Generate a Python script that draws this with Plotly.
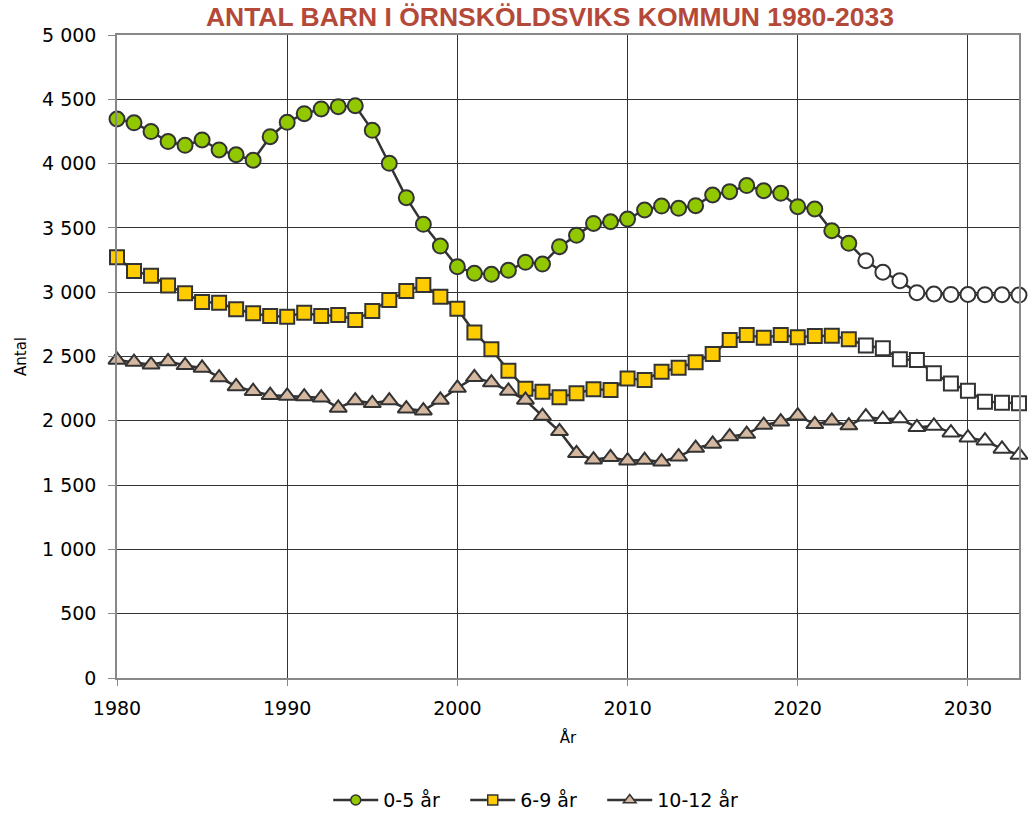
import plotly.graph_objects as go

years = list(range(1980, 2034))

age_0_5 = [4347, 4317, 4249, 4171, 4142, 4184, 4106, 4069, 4026, 4209,
           4321, 4388, 4425, 4443, 4450, 4259, 4002, 3735, 3528, 3359,
           3198, 3147, 3139, 3170, 3232, 3219, 3354, 3442, 3535, 3548,
           3569, 3639, 3670, 3652, 3673, 3756, 3782, 3829, 3789, 3769,
           3665, 3647, 3478, 3380, 3245, 3155, 3090, 2996, 2986, 2983,
           2982, 2981, 2980, 2978]

age_6_9 = [3271, 3165, 3128, 3053, 2991, 2924, 2918, 2867, 2836, 2815,
           2810, 2841, 2815, 2823, 2784, 2854, 2939, 3009, 3056, 2965,
           2872, 2686, 2556, 2390, 2250, 2226, 2183, 2214, 2245, 2240,
           2328, 2317, 2382, 2413, 2455, 2519, 2628, 2667, 2646, 2667,
           2649, 2659, 2662, 2634, 2586, 2564, 2478, 2473, 2369, 2291,
           2234, 2149, 2141, 2136]

age_10_12 = [2473, 2457, 2436, 2462, 2431, 2411, 2336, 2267, 2230, 2199,
             2193, 2188, 2180, 2100, 2157, 2136, 2157, 2094, 2079, 2162,
             2255, 2338, 2297, 2232, 2162, 2037, 1918, 1747, 1698, 1716,
             1690, 1695, 1682, 1721, 1788, 1820, 1877, 1897, 1967, 1993,
             2040, 1973, 2000, 1963, 2032, 2012, 2017, 1949, 1960, 1908,
             1869, 1845, 1781, 1734]

series_names = ["0-5 år", "6-9 år", "10-12 år"]
forecast_start = 2024

x_ticks = [1980, 1990, 2000, 2010, 2020, 2030]
y_ticks = [0, 500, 1000, 1500, 2000, 2500, 3000, 3500, 4000, 4500, 5000]

title_text = "ANTAL BARN I ÖRNSKÖLDSVIKS KOMMUN 1980-2033"
x_title = "År"
y_title = "Antal"

styles = [
    dict(symbol="circle", color="#92C800", size=15),
    dict(symbol="square", color="#FFCC00", size=14),
    dict(symbol="triangle-up", color="#D5B8A0", size=15),
]
LINE = "#333333"

fig = go.Figure()
for name, vals, st in zip(series_names, [age_0_5, age_6_9, age_10_12], styles):
    colors = [st["color"] if y < forecast_start else "#FFFFFF" for y in years]
    fig.add_trace(go.Scatter(
        x=years, y=vals, name=name, mode="lines+markers", showlegend=False,
        line=dict(color=LINE, width=2.5),
        marker=dict(symbol=st["symbol"], size=st["size"], color=colors,
                    line=dict(color=LINE, width=2)),
        cliponaxis=False,
    ))
# legend entries (smaller symbols, as in the original)
for name, st in zip(series_names, styles):
    fig.add_trace(go.Scatter(
        x=[None], y=[None], name=name, mode="lines+markers",
        line=dict(color=LINE, width=2.5),
        marker=dict(symbol=st["symbol"], size=10 if st["symbol"] != "triangle-up" else 11,
                    color=st["color"], line=dict(color=LINE, width=1.5)),
    ))

base_font = "DejaVu Sans, Verdana, sans-serif"

fig.update_layout(
    width=1028, height=817,
    paper_bgcolor="white", plot_bgcolor="white",
    margin=dict(l=117, r=9, t=35, b=139, autoexpand=False),
    font=dict(family=base_font, size=19, color="#000000"),
    title=dict(text=title_text, x=0.48, xref="paper", xanchor="center",
               y=1 - 17 / 817, yref="container", yanchor="middle",
               font=dict(family="Liberation Sans, Arial, sans-serif",
                         size=26.5, color="#B4493A", weight="bold")),
    showlegend=True,
    legend=dict(orientation="h", x=0.462, xanchor="center", y=-0.19, yanchor="middle",
                font=dict(size=19), bgcolor="rgba(0,0,0,0)",
                itemwidth=45, entrywidth=77, entrywidthmode="pixels"),
    separators=", ",
    hovermode=False,
)

fig.update_xaxes(
    range=[1980, 2033], tickvals=x_ticks,
    showgrid=True, gridcolor="#333333", gridwidth=1,
    showline=True, linecolor="#888888", linewidth=1.5, mirror=True,
    ticks="outside", ticklen=6, tickcolor="#888888",
    ticklabelstandoff=6, automargin=False,
    zeroline=False,
    title=dict(text=x_title, font=dict(size=15), standoff=15),
)
fig.update_yaxes(
    range=[0, 5000], tickvals=y_ticks, separatethousands=True,
    showgrid=True, gridcolor="#333333", gridwidth=1,
    showline=True, linecolor="#888888", linewidth=1.5, mirror=True,
    ticks="outside", ticklen=7, tickcolor="#888888",
    ticklabelstandoff=8, automargin=False,
    zeroline=False,
    title=dict(text=y_title, font=dict(size=15), standoff=12),
)

fig.write_html("out.html", config={"displayModeBar": False},
               post_script="document.body.style.margin='0';")
